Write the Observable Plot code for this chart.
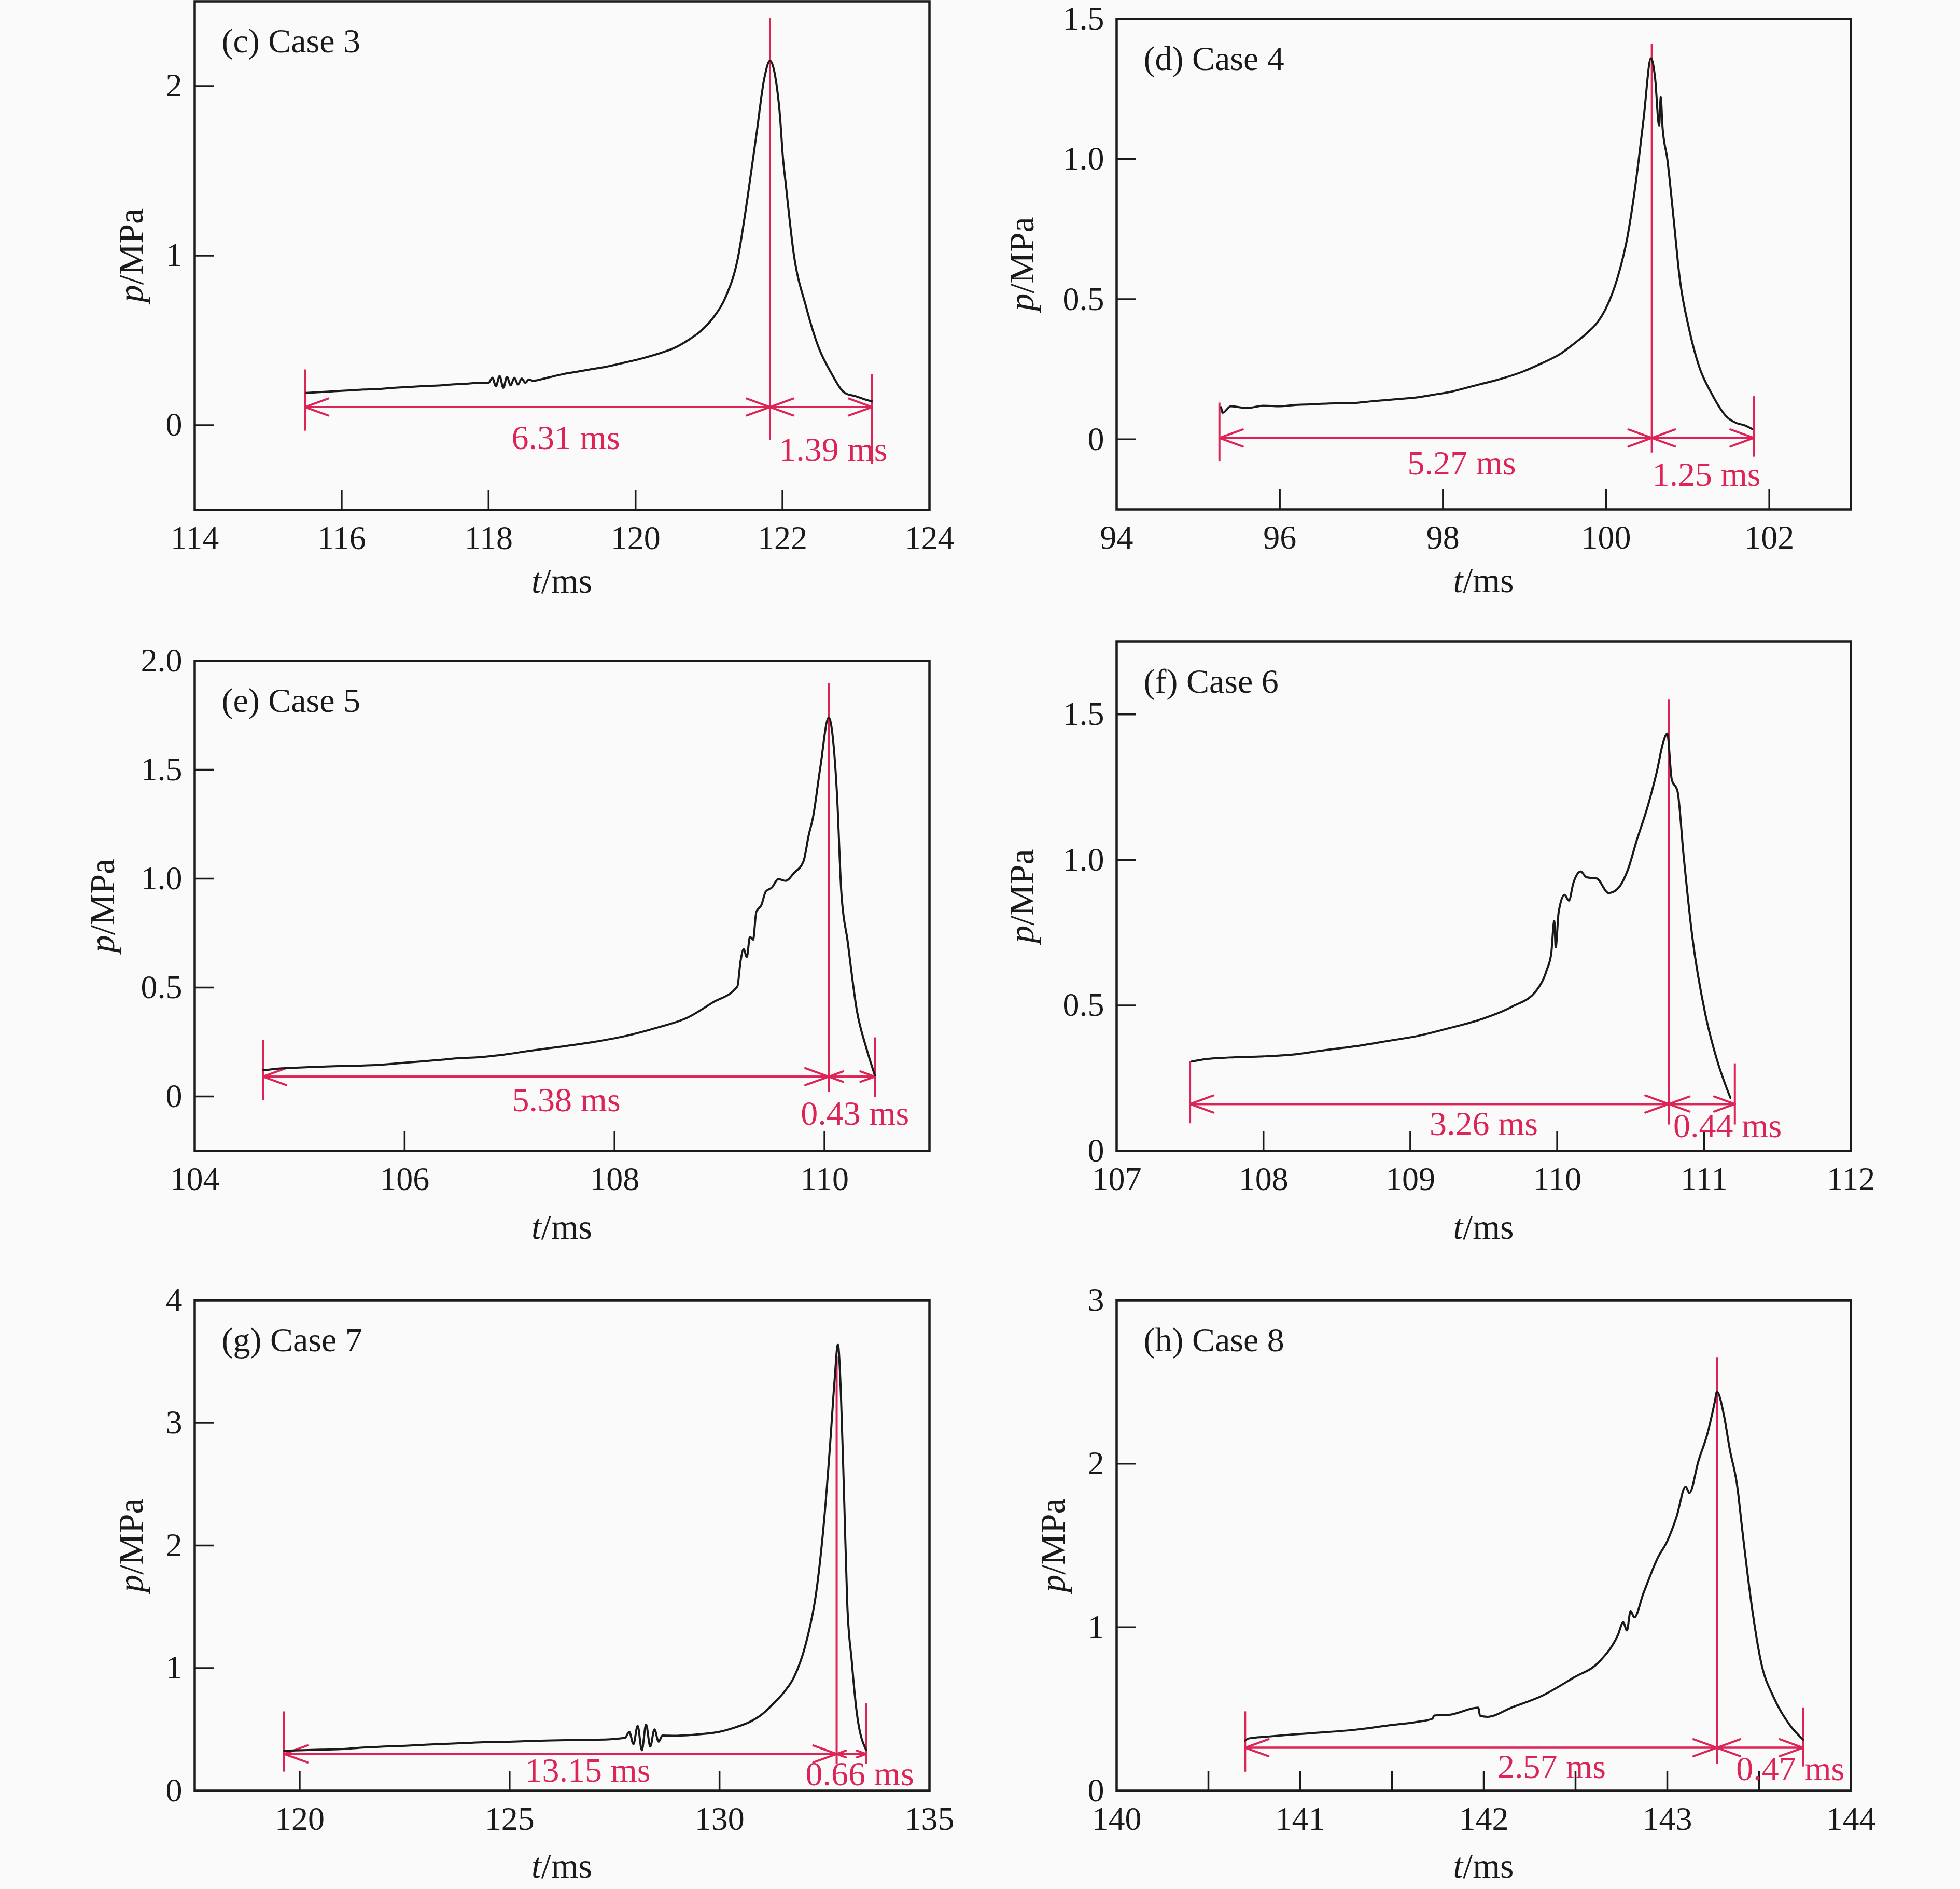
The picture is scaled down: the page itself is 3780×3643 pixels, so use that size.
<!DOCTYPE html>
<html>
<head>
<meta charset="utf-8">
<script src="https://cdn.jsdelivr.net/npm/d3@7"></script>
<script src="https://cdn.jsdelivr.net/npm/@observablehq/plot@0.6"></script>
<style>
html, body { margin: 0; padding: 0; background: #fafafa; }
#fig { position: relative; width: 3780px; height: 3643px; overflow: hidden; background: #fafafa; }
#fig svg { position: absolute; }
</style>
</head>
<body>
<div id="fig"></div>
<script>
// ================= DATA =================
// Case 3
const case3T = [115.52,115.7,115.9,116.1,116.3,116.46,116.7,116.9,117.1,117.31,117.5,117.7,117.9,118.0,118.05,118.1,118.15,118.2,118.25,118.3,118.35,118.4,118.45,118.5,118.55,118.6,118.8,119.0,119.2,119.4,119.6,119.86,120.1,120.37,120.55,120.71,120.9,121.05,121.22,121.39,121.52,121.65,121.75,121.83,121.9,121.97,122.0,122.05,122.15,122.32,122.49,122.66,122.85,123.0,123.1,123.22];
const case3P = [0.19,0.195,0.2,0.205,0.21,0.212,0.22,0.225,0.23,0.234,0.24,0.245,0.25,0.25,0.28,0.23,0.29,0.22,0.285,0.235,0.28,0.24,0.275,0.25,0.27,0.262,0.28,0.3,0.315,0.33,0.345,0.37,0.395,0.43,0.46,0.5,0.56,0.63,0.75,0.98,1.33,1.73,2.04,2.15,2.06,1.8,1.61,1.4,1.02,0.7,0.46,0.31,0.19,0.17,0.155,0.14];
// Case 4
const case4T = [95.28,95.3,95.4,95.6,95.8,96.0,96.16,96.4,96.6,96.92,97.1,97.3,97.5,97.69,97.9,98.1,98.3,98.46,98.7,98.99,99.2,99.45,99.6,99.76,99.9,99.99,100.14,100.26,100.37,100.46,100.55,100.6,100.65,100.67,100.69,100.75,100.83,100.9,101.02,101.14,101.29,101.48,101.6,101.7,101.79];
const case4P = [0.115,0.095,0.118,0.112,0.12,0.118,0.122,0.125,0.128,0.13,0.135,0.14,0.145,0.15,0.16,0.17,0.185,0.197,0.215,0.243,0.27,0.307,0.34,0.378,0.42,0.463,0.577,0.72,0.93,1.145,1.36,1.29,1.12,1.22,1.12,1.0,0.78,0.58,0.39,0.26,0.165,0.08,0.058,0.05,0.037];
// Case 5
const case5T = [104.65,104.8,105.0,105.125,105.4,105.72,106.0,106.32,106.5,106.7,106.91,107.2,107.51,107.8,108.1,108.4,108.7,108.93,109.17,109.2,109.23,109.26,109.29,109.32,109.35,109.4,109.44,109.5,109.56,109.63,109.71,109.8,109.85,109.89,109.96,110.04,110.08,110.12,110.16,110.22,110.31,110.4,110.48];
const case5P = [0.12,0.128,0.133,0.135,0.14,0.144,0.155,0.167,0.175,0.18,0.19,0.21,0.23,0.25,0.277,0.315,0.363,0.43,0.505,0.62,0.676,0.64,0.733,0.72,0.846,0.88,0.94,0.96,0.998,0.99,1.026,1.08,1.2,1.28,1.51,1.74,1.645,1.38,0.94,0.714,0.39,0.22,0.097];
// Case 6
const case6T = [107.51,107.6,107.77,108.0,108.2,108.4,108.63,108.85,109.05,109.25,109.48,109.69,109.86,109.93,109.96,109.98,109.99,110.01,110.05,110.08,110.11,110.16,110.2,110.27,110.35,110.41,110.48,110.54,110.62,110.68,110.72,110.75,110.78,110.82,110.86,110.92,111.01,111.09,111.18];
const case6P = [0.307,0.315,0.321,0.325,0.331,0.345,0.36,0.378,0.395,0.42,0.452,0.495,0.552,0.623,0.68,0.79,0.7,0.82,0.88,0.86,0.92,0.96,0.94,0.936,0.886,0.9,0.964,1.064,1.19,1.306,1.4,1.434,1.277,1.235,1.02,0.737,0.467,0.31,0.182];
// Case 7
const case7T = [119.63,120.0,120.5,121.04,121.5,122.0,122.53,123.0,123.5,124.02,124.5,125.0,125.51,126.0,126.5,127.0,127.4,127.75,127.85,127.95,128.05,128.15,128.25,128.35,128.45,128.55,128.64,128.94,129.5,129.99,130.4,130.73,131.0,131.33,131.55,131.77,132.07,132.3,132.49,132.64,132.74,132.82,132.89,132.97,133.04,133.15,133.26,133.49];
const case7P = [0.327,0.33,0.335,0.34,0.352,0.36,0.367,0.375,0.383,0.39,0.397,0.4,0.406,0.41,0.413,0.416,0.42,0.432,0.48,0.38,0.53,0.33,0.54,0.36,0.5,0.4,0.45,0.448,0.46,0.48,0.52,0.563,0.62,0.727,0.81,0.923,1.218,1.61,2.2,2.854,3.345,3.64,3.247,2.363,1.545,1.054,0.661,0.334];
// Case 8
const case8T = [140.7,140.72,140.82,140.96,141.1,141.3,141.47,141.64,141.72,141.73,141.81,141.97,141.98,142.02,142.15,142.32,142.49,142.63,142.73,142.76,142.78,142.8,142.82,142.87,142.95,143.0,143.05,143.1,143.12,143.17,143.22,143.26,143.27,143.31,143.34,143.38,143.41,143.46,143.51,143.58,143.67,143.74];
const case8P = [0.307,0.32,0.331,0.344,0.355,0.373,0.398,0.422,0.44,0.46,0.464,0.508,0.459,0.452,0.508,0.582,0.692,0.79,0.95,1.03,0.98,1.1,1.06,1.208,1.429,1.527,1.674,1.86,1.82,2.018,2.19,2.386,2.44,2.288,2.09,1.87,1.58,1.13,0.79,0.57,0.398,0.312];

const panelTitles = ["(c) Case 3","(d) Case 4","(e) Case 5","(f) Case 6","(g) Case 7","(h) Case 8"];
const seriesT = [case3T, case4T, case5T, case6T, case7T, case8T];
const seriesP = [case3P, case4P, case5P, case6P, case7P, case8P];

const xDomains = [[114,124],[94,103],[104,111],[107,112],[117.5,135],[140,144]];
const yDomains = [[-0.5,2.5],[-0.25,1.5],[-0.25,2.0],[0,1.75],[0,4],[0,3]];
const xTickLabels = [[114,116,118,120,122,124],[94,96,98,100,102],[104,106,108,110],[107,108,109,110,111,112],[120,125,130,135],[140,141,142,143,144]];
const xTickMarks = [[116,118,120,122],[96,98,100,102],[106,108,110],[108,109,110,111],[120,125,130],[140.5,141,141.5,142,142.5,143,143.5]];
const yTickLabels = [[0,1,2],[0,0.5,1.0,1.5],[0,0.5,1.0,1.5,2.0],[0,0.5,1.0,1.5],[0,1,2,3,4],[0,1,2,3]];
const yTickMarks = [[0,1,2],[0,0.5,1.0],[0,0.5,1.0,1.5],[0.5,1.0,1.5],[1,2,3],[1,2]];
const yDecimals = [0,1,1,1,0,0];

// annotation values (t in ms, p in MPa)
const tStart = [115.50, 95.26, 104.65, 107.50, 119.63, 140.70];
const tPeak  = [121.83, 100.56, 110.04, 110.76, 132.79, 143.27];
const tEnd   = [123.22, 101.81, 110.48, 111.21, 133.49, 143.74];
const arrowP = [0.107, 0.005, 0.091, 0.161, 0.30, 0.263];
const startLineP = [[-0.034,0.327],[-0.08,0.13],[-0.017,0.258],[0.094,0.307],[0.154,0.645],[0.115,0.484]];
const peakLineP  = [[-0.09,2.40],[-0.048,1.41],[0.02,1.896],[0.09,1.55],[0.22,3.54],[0.165,2.65]];
const endLineP   = [[-0.23,0.30],[-0.0625,0.153],[-0.004,0.27],[0.09,0.30],[0.22,0.71],[0.147,0.508]];
const riseLabels = ["6.31 ms","5.27 ms","5.38 ms","3.26 ms","13.15 ms","2.57 ms"];
const fallLabels = ["1.39 ms","1.25 ms","0.43 ms","0.44 ms","0.66 ms","0.47 ms"];
const riseLabelT = [119.05, 98.23, 107.54, 109.50, 126.86, 142.37];
const riseLabelP = [-0.14, -0.126, -0.068, 0.054, 0.072, 0.079];
const fallLabelT = [122.69, 101.23, 110.29, 111.16, 133.34, 143.67];
const fallLabelP = [-0.21, -0.165, -0.13, 0.047, 0.046, 0.066];

// ================= LAYOUT =================
const layout = [
  {left: 0,    top: 0,    width: 1890, height: 1200, ml: 375, mr: 98,  mt: 2,  mb: 217, yLabOff: 100, xLabOff: 160},
  {left: 1890, top: 0,    width: 1890, height: 1200, ml: 263, mr: 211, mt: 36, mb: 218, yLabOff: 160, xLabOff: 160},
  {left: 0,    top: 1200, width: 1890, height: 1230, ml: 375, mr: 98,  mt: 74, mb: 211, yLabOff: 155, xLabOff: 170},
  {left: 1890, top: 1200, width: 1890, height: 1230, ml: 263, mr: 211, mt: 37, mb: 211, yLabOff: 160, xLabOff: 170},
  {left: 0,    top: 2430, width: 1890, height: 1213, ml: 375, mr: 98,  mt: 77, mb: 190, yLabOff: 100, xLabOff: 168},
  {left: 1890, top: 2430, width: 1890, height: 1213, ml: 263, mr: 211, mt: 77, mb: 190, yLabOff: 100, xLabOff: 168}
];
const FONT = "'Liberation Serif', 'Times New Roman', Times, serif";
const RED = "#dc2456";
const INK = "#1a1a1a";
const TICK = 38;

const fig = document.getElementById("fig");

layout.forEach((L, i) => {
  const frameW = L.width - L.ml - L.mr;
  const frameH = L.height - L.mt - L.mb;
  const curve = seriesT[i].map((t, k) => ({t, p: seriesP[i][k]}));
  const vlines = [
    {t: tStart[i], lo: startLineP[i][0], hi: startLineP[i][1]},
    {t: tPeak[i],  lo: peakLineP[i][0],  hi: peakLineP[i][1]},
    {t: tEnd[i],   lo: endLineP[i][0],   hi: endLineP[i][1]}
  ];
  const arrows = [
    {a: tStart[i], b: tPeak[i]}, {a: tPeak[i], b: tStart[i]},
    {a: tPeak[i], b: tEnd[i]},   {a: tEnd[i], b: tPeak[i]}
  ];
  const labels = [
    {t: riseLabelT[i], p: riseLabelP[i], s: riseLabels[i]},
    {t: fallLabelT[i], p: fallLabelP[i], s: fallLabels[i]}
  ];
  const dec = yDecimals[i];
  const yFmt = d => d === 0 ? "0" : d.toFixed(dec);

  const svg = Plot.plot({
    width: L.width,
    height: L.height,
    marginLeft: L.ml, marginRight: L.mr, marginTop: L.mt, marginBottom: L.mb,
    style: {fontFamily: FONT, fontSize: "64px", background: "transparent", overflow: "visible", maxWidth: "none", color: INK},
    x: {domain: xDomains[i], label: null},
    y: {domain: yDomains[i], label: null},
    marks: [
      Plot.axisX(xTickLabels[i], {tickSize: 0, tickPadding: 30, fontSize: 64, fontFamily: FONT, fill: INK, label: null, tickFormat: d => String(d)}),
      Plot.axisY(yTickLabels[i], {tickSize: 0, tickPadding: 24, fontSize: 64, fontFamily: FONT, fill: INK, label: null, tickFormat: yFmt}),
      Plot.tickX(xTickMarks[i], {x: d => d, insetTop: frameH - TICK, stroke: INK, strokeWidth: 3.5}),
      Plot.tickY(yTickMarks[i], {y: d => d, insetRight: frameW - TICK, stroke: INK, strokeWidth: 3.5}),
      Plot.ruleX(vlines, {x: "t", y1: "lo", y2: "hi", stroke: RED, strokeWidth: 4}),
      Plot.arrow(arrows, {x1: "a", x2: "b", y1: () => arrowP[i], y2: () => arrowP[i], stroke: RED, strokeWidth: 4, headLength: 18, headAngle: 40, bend: 0}),
      Plot.line(curve, {x: "t", y: "p", stroke: INK, strokeWidth: 4, strokeLinejoin: "round", curve: "monotone-x"}),
      Plot.text(labels, {x: "t", y: "p", text: "s", fill: RED, fontSize: 66, fontFamily: FONT, lineAnchor: "bottom", textAnchor: "middle"}),
      Plot.text([panelTitles[i]], {frameAnchor: "top-left", dx: 52, dy: 98, lineAnchor: "bottom", textAnchor: "start", fontSize: 66, fontFamily: FONT, fill: INK}),
      Plot.frame({stroke: INK, strokeWidth: 4.5})
    ]
  });
  svg.style.left = L.left + "px";
  svg.style.top = L.top + "px";

  const s = d3.select(svg);
  // x-axis label: t/ms
  const xl = s.append("text")
    .attr("x", L.ml + frameW / 2)
    .attr("y", L.height - L.mb + L.xLabOff)
    .attr("text-anchor", "middle")
    .attr("font-size", 68)
    .attr("font-family", FONT)
    .attr("fill", INK);
  xl.append("tspan").attr("font-style", "italic").text("t");
  xl.append("tspan").text("/ms");
  // y-axis label: p/MPa
  const yl = s.append("text")
    .attr("transform", `translate(${L.ml - L.yLabOff},${L.mt + frameH / 2}) rotate(-90)`)
    .attr("text-anchor", "middle")
    .attr("font-size", 68)
    .attr("font-family", FONT)
    .attr("fill", INK);
  yl.append("tspan").attr("font-style", "italic").text("p");
  yl.append("tspan").text("/MPa");

  fig.appendChild(svg);
});
</script>
</body>
</html>
